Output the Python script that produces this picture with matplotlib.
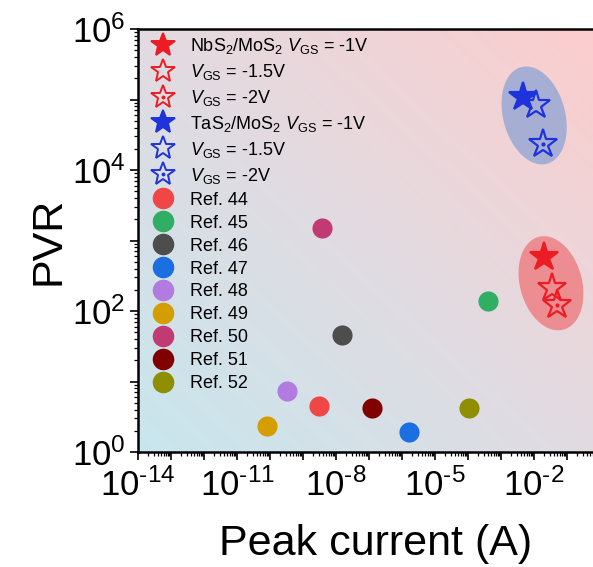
import numpy as np
import matplotlib
matplotlib.use("Agg")
import matplotlib.pyplot as plt
from matplotlib.ticker import FixedLocator, NullFormatter
from matplotlib.legend_handler import HandlerTuple
from matplotlib.lines import Line2D

plt.rcParams['font.family'] = ['Liberation Sans', 'DejaVu Sans']
plt.rcParams['mathtext.fontset'] = 'custom'
plt.rcParams['mathtext.rm'] = 'Liberation Sans'
plt.rcParams['mathtext.it'] = 'Liberation Sans:italic'
plt.rcParams['mathtext.bf'] = 'Liberation Sans:bold'

# this work: peak current (A) and PVR at V_GS = -1, -1.5, -2 V
vgs_labels = ['-1V', '-1.5V', '-2V']
nbs2_current = [2.0e-2, 3.5e-2, 5.0e-2]
nbs2_pvr = [585, 212, 122]
tas2_current = [4.7e-3, 1.15e-2, 1.9e-2]
tas2_pvr = [1.1e5, 8.3e4, 2.3e4]

# literature values
ref_labels = ['Ref. 44', 'Ref. 45', 'Ref. 46', 'Ref. 47', 'Ref. 48',
              'Ref. 49', 'Ref. 50', 'Ref. 51', 'Ref. 52']
ref_current = [3.0e-9, 4.0e-4, 1.5e-8, 1.6e-6, 3.3e-10,
               8.1e-11, 3.8e-9, 1.2e-7, 1.07e-4]
ref_pvr = [4.5, 138, 46, 1.9, 7.3, 2.3, 1500, 4.2, 4.2]
ref_colors = ['#f04646', '#2fae64', '#4d4d4d', '#1b6fe0', '#b27be0',
              '#d49d00', '#c23a74', '#800000', '#8e8e00']

nbs2_color = '#ec1c24'
tas2_color = '#1f33dc'

fig = plt.figure(figsize=(5.93, 5.67), dpi=100)
ax_w = 14 * 33 / 593
ax = fig.add_axes([138 / 593, 115 / 567, ax_w, 423 / 567])
ax.set_xscale('log')
ax.set_yscale('log')
ax.set_xlim(1e-14, 1e0)
ax.set_ylim(1e0, 1e6)

# diagonal background gradient
c0 = np.array([200, 230, 238]) / 255
c1 = np.array([226, 219, 225]) / 255
c2 = np.array([253, 205, 205]) / 255
uu, vv = np.meshgrid(np.linspace(0, 1, 200), np.linspace(0, 1, 200))
t = (uu + vv) / 2
img = np.where(t[..., None] < 0.5,
               c0 + (c1 - c0) * (t[..., None] / 0.5),
               c1 + (c2 - c1) * ((t[..., None] - 0.5) / 0.5))
ax.imshow(img, extent=[0, 1, 0, 1], transform=ax.transAxes, origin='lower',
          aspect='auto', zorder=0)

# shaded ellipses around each group, built in log space
px_x = 593 * ax_w / 14      # pixels per decade
px_y = 567 * (423 / 567) / 6


def group_ellipse(xs, ys, a, b, angle, color):
    cx = np.mean(np.log10(xs))
    cy = np.mean(np.log10(ys))
    th = np.linspace(0, 2 * np.pi, 200)
    ex = a * np.cos(th)
    ey = b * np.sin(th)
    r = np.deg2rad(angle)
    rx = ex * np.cos(r) - ey * np.sin(r)
    ry = ex * np.sin(r) + ey * np.cos(r)
    ax.fill(10 ** (cx + rx / px_x), 10 ** (cy + ry / px_y), color=color,
            lw=0, zorder=1)


group_ellipse(tas2_current, tas2_pvr, 31, 50, 15, '#a6afd3')
group_ellipse(nbs2_current, nbs2_pvr, 31, 48, 15, '#ec8d92')

handles = []
labels = []
for name, xs, ys, col in [('NbS$_2$/MoS$_2$', nbs2_current, nbs2_pvr, nbs2_color),
                          ('TaS$_2$/MoS$_2$', tas2_current, tas2_pvr, tas2_color)]:
    for i, v in enumerate(vgs_labels):
        face = col if i == 0 else 'none'
        ax.plot(xs[i], ys[i], marker='*', ms=21, mfc=face, mec=col, mew=1.6,
                ls='none', zorder=3)
        h = Line2D([], [], marker='*', ms=18, mfc=face, mec=col, mew=1.4, ls='none')
        if i == 2:
            # open star with a dot in the middle
            ax.plot(xs[i], ys[i], marker='o', ms=2, color=col, ls='none', zorder=3)
            h = (h, Line2D([], [], marker='o', ms=1.8, color=col, ls='none'))
        handles.append(h)
        lab = r'$V_{\mathrm{GS}}$ = ' + v
        if i == 0:
            lab = name + ' ' + lab
        labels.append(lab)

for x, y, c, lab in zip(ref_current, ref_pvr, ref_colors, ref_labels):
    ax.scatter(x, y, s=210, color=c, lw=0, zorder=2)
    handles.append(Line2D([], [], marker='o', ms=14.5, color=c, ls='none'))
    labels.append(lab)

ax.legend(handles, labels, loc='upper left', bbox_to_anchor=(0.01, 1.005),
          frameon=False, fontsize=13, labelspacing=0.33, handlelength=1.3,
          handletextpad=0.8, borderaxespad=0.1,
          handler_map={tuple: HandlerTuple(ndivide=1, pad=0)})

# ticks
ax.xaxis.set_major_locator(FixedLocator([10.0 ** e for e in range(-14, 1)]))
ax.set_xticklabels([r'$10^{\text{%d}}$' % e if (e + 14) % 3 == 0 else ''
                    for e in range(-14, 1)])
ax.xaxis.set_minor_locator(FixedLocator([m * 10.0 ** e for e in range(-14, 0)
                                         for m in range(2, 10)]))
ax.xaxis.set_minor_formatter(NullFormatter())
ax.yaxis.set_major_locator(FixedLocator([10.0 ** e for e in range(0, 7)]))
ax.set_yticklabels(['$10^{%d}$' % e if e % 2 == 0 else '' for e in range(0, 7)])
ax.yaxis.set_minor_locator(FixedLocator([m * 10.0 ** e for e in range(0, 6)
                                         for m in range(2, 10)]))
ax.yaxis.set_minor_formatter(NullFormatter())
ax.tick_params(which='major', direction='out', length=6, width=1.2,
               labelsize=25, pad=3)
ax.tick_params(axis='x', which='major', pad=6)
ax.tick_params(which='minor', direction='out', length=3, width=0.9)
for sp in ax.spines.values():
    sp.set_linewidth(1.8)

ax.set_xlabel('Peak current (A)', fontsize=31, labelpad=12)
ax.xaxis.set_label_coords(0.515, -0.17)
ax.set_ylabel('PVR', fontsize=31, labelpad=2)

fig.savefig('out.png', dpi=100)
